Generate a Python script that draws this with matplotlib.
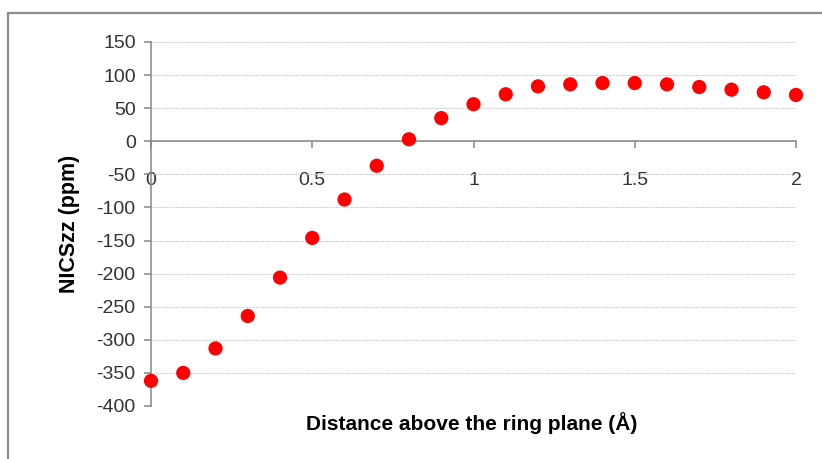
import numpy as np
import matplotlib
matplotlib.use("Agg")
import matplotlib.pyplot as plt
from matplotlib.patches import Rectangle

# ================================================================================
# NICSzz values
distance = [0.0, 0.1, 0.2, 0.3, 0.4, 0.5, 0.6, 0.7, 0.8, 0.9, 1.0,
            1.1, 1.2, 1.3, 1.4, 1.5, 1.6, 1.7, 1.8, 1.9, 2.0]
nics_zz = [-362, -350, -313, -264, -206, -146, -88, -37, 3, 35, 56,
           71, 83, 86, 88, 88, 86, 82, 78, 74, 70]

x_ticks = [0, 0.5, 1, 1.5, 2]
x_tick_labels = ["0", "0.5", "1", "1.5", "2"]
y_ticks = list(range(-400, 151, 50))

# ================================================================================
plt.rcParams['font.family'] = ['Liberation Sans', 'DejaVu Sans']
plt.rcParams['axes.unicode_minus'] = False

fig = plt.figure(figsize=(8.22, 4.59), dpi=100)
ax = fig.add_axes([151 / 822, 1 - 406 / 459, (796 - 151) / 822, (406 - 42) / 459])

# outer chart frame (Excel style)
fig.patches.append(Rectangle((8 / 822, -0.1), 1.2, 1 - 13 / 459 + 0.1,
                             transform=fig.transFigure, fill=False,
                             edgecolor="#8c8c8c", linewidth=1.6))

ax.grid(axis="y", color="#c0c0c0", linestyle=(0, (1, 1)), linewidth=0.8)
ax.set_axisbelow(True)

ax.scatter(distance, nics_zz, s=105, color="#ff0000", edgecolors="none",
           zorder=3, clip_on=False)

ax.set_xlim(0, 2)
ax.set_ylim(-400, 150)
ax.set_xticks(x_ticks)
ax.set_xticklabels(x_tick_labels)
ax.set_yticks(y_ticks)

for side in ["top", "right"]:
    ax.spines[side].set_visible(False)
ax.spines["bottom"].set_position(("data", 0))
ax.spines["left"].set_position(("data", 0))
for side in ["bottom", "left"]:
    ax.spines[side].set_color("#868686")
    ax.spines[side].set_linewidth(1.1)

ax.tick_params(axis="both", colors="#868686", labelcolor="#333333",
               labelsize=14, length=5, width=1.1, direction="out")
ax.tick_params(axis="x", pad=17)
ax.tick_params(axis="y", pad=6)

ax.set_ylabel("NICSzz (ppm)", fontsize=15.5, fontweight="bold", labelpad=12)
fig.text(472 / 822, 1 - 423 / 459, "Distance above the ring plane (Å)",
         ha="center", va="center", fontsize=15, fontweight="bold")

fig.savefig("out.png", dpi=100)
